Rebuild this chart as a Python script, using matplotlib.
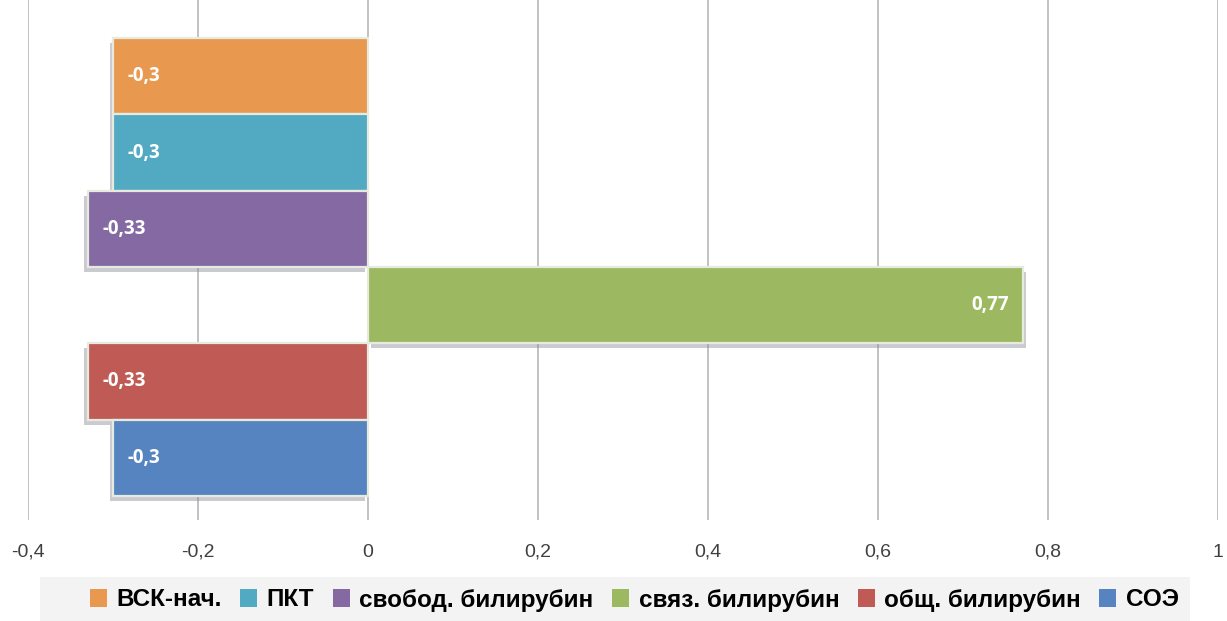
import matplotlib
matplotlib.use("Agg")
import matplotlib.pyplot as plt
import matplotlib.patheffects as pe
from matplotlib.patches import Rectangle
from matplotlib.ticker import FuncFormatter

# Correlation values, listed top to bottom as shown on the chart
series = ["ВСК-нач.", "ПКТ", "свобод. билирубин", "связ. билирубин", "общ. билирубин", "СОЭ"]
values = [-0.3, -0.3, -0.33, 0.77, -0.33, -0.3]
colors = ["#E8984F", "#52A9C2", "#8469A3", "#9CB962", "#C05A55", "#5584C0"]
xticks = [-0.4, -0.2, 0.0, 0.2, 0.4, 0.6, 0.8, 1.0]

plt.rcParams["font.family"] = ["Liberation Sans Narrow", "Liberation Sans", "DejaVu Sans"]

fig = plt.figure(figsize=(12.27, 6.21), dpi=100)
ax = fig.add_axes([28 / 1227, 101 / 621, 1190 / 1227, 520 / 621])

n = len(series)
positions = [n - 1 - i for i in range(n)]

for pos, val, col, name in zip(positions, values, colors, series):
    sx = -2.5 if val < 0 else 2.5
    bar = ax.barh(pos, val, height=1.0, color=col, edgecolor="#e6eadf",
                  linewidth=1.6, label=name, zorder=3)
    bar[0].set_path_effects([
        pe.SimplePatchShadow(offset=(sx, -3.5), shadow_rgbFace="#8a8a9a", alpha=0.45),
        pe.Normal(),
    ])
    label = f"{val:g}".replace(".", ",")
    if val < 0:
        ax.annotate(label, xy=(val, pos), xytext=(10.5, 0), textcoords="offset points",
                    ha="left", va="center", color="white", fontsize=13.5,
                    fontweight="bold", family=["Open Sans", "DejaVu Sans"], zorder=5)
    else:
        ax.annotate(label, xy=(val, pos), xytext=(-10, 0), textcoords="offset points",
                    ha="right", va="center", color="white", fontsize=13.5,
                    fontweight="bold", family=["Open Sans", "DejaVu Sans"], zorder=5)

ax.set_xlim(-0.4, 1.0)
ax.set_ylim(-0.5 - 24 / 76.33, n - 0.5 + 38 / 76.33)
ax.set_xticks(xticks)
ax.xaxis.set_major_formatter(FuncFormatter(lambda v, _: f"{v:g}".replace(".", ",")))
ax.set_yticks([])
ax.grid(axis="x", color="#bdbdbd", linewidth=1.3, zorder=0)
ax.set_axisbelow(True)
for s in ax.spines.values():
    s.set_visible(False)
ax.tick_params(axis="x", length=0, pad=17, labelsize=14, labelcolor="#404040")
for t in ax.get_xticklabels():
    t.set_family(["Liberation Sans Narrow", "Liberation Sans", "DejaVu Sans"])

# Legend band along the bottom
fig.patches.append(Rectangle((40 / 1227, 0), 1150 / 1227, 44 / 621,
                             transform=fig.transFigure, facecolor="#f3f3f3",
                             edgecolor="none", zorder=0))
handles, labels = ax.get_legend_handles_labels()
leg = fig.legend(handles, labels, loc="center", bbox_to_anchor=(0.517, 21 / 621),
                 ncol=n, frameon=False, handlelength=0.7, handleheight=0.7,
                 handletextpad=0.4, columnspacing=0.75,
                 prop={"size": 17.5, "weight": "bold",
                       "family": ["Liberation Sans Narrow", "Liberation Sans", "DejaVu Sans"]})
for h in leg.legend_handles:
    h.set_path_effects([])
    h.set_edgecolor("none")

fig.savefig("out.png", dpi=100, facecolor="white")
